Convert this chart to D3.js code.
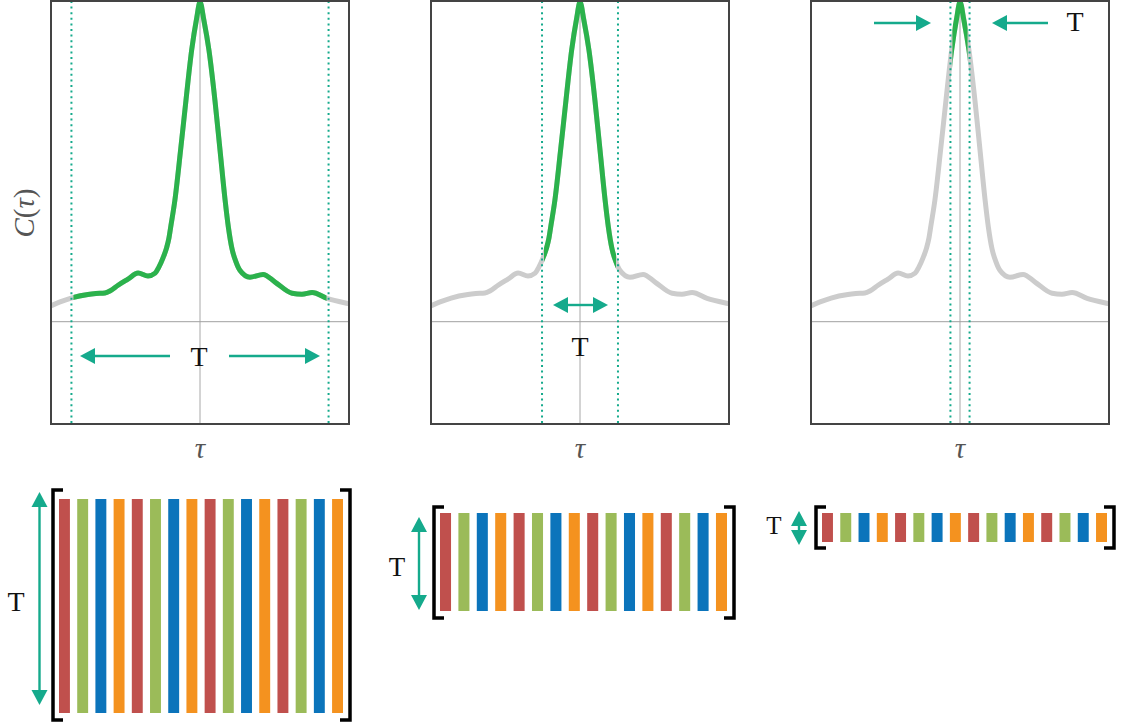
<!DOCTYPE html>
<html>
<head>
<meta charset="utf-8">
<script src="https://cdn.jsdelivr.net/npm/d3@7"></script>
<style>
  html, body { margin: 0; padding: 0; background: #fff; }
  svg { display: block; }
</style>
</head>
<body>
<script>
// Autocorrelation curve C(tau), sampled along the lag axis
const tauValues = [-5.05, -4.68, -4.31, -3.75, -3.48, -3.18, -3.0, -2.74, -2.41, -2.07, -1.74, -1.50, -1.38,
  -1.24, -1.12, -1.04, -0.97, -0.84, -0.65, -0.47, -0.28, -0.11, 0,
  0.13, 0.30, 0.50, 0.67, 0.84, 0.95, 1.07, 1.20, 1.34, 1.67, 2.11, 2.51, 3.08, 3.41, 3.75, 4.25, 4.95, 5.05];
const corrValues = [0.047, 0.062, 0.074, 0.085, 0.088, 0.090, 0.097, 0.114, 0.133, 0.152, 0.143, 0.152, 0.170,
  0.199, 0.230, 0.261, 0.302, 0.380, 0.536, 0.692, 0.849, 0.950, 1.0,
  0.943, 0.849, 0.692, 0.536, 0.380, 0.295, 0.228, 0.188, 0.160, 0.139, 0.148, 0.124, 0.089, 0.086, 0.091, 0.073, 0.057, 0.055];

// Half-width of the integration window T in each panel (lag units)
const windowHalfWidths = [4.3, 1.27, 0.32];

// Columns of each trajectory matrix (colour groups repeat across the 16 columns)
const columnGroups = ["a", "b", "c", "d", "a", "b", "c", "d", "a", "b", "c", "d", "a", "b", "c", "d"];
const groupNames = ["a", "b", "c", "d"];
const groupColors = ["#c0504d", "#9bbb59", "#0b74bb", "#f4921f"];

const labelT = "T";

const curveData = tauValues.map((t, i) => ({ tau: t, c: corrValues[i] }));

const W = 1122, H = 727;
const teal = "#15aa8c";
const serifFont = "'Liberation Serif', 'DejaVu Serif', serif";
const svg = d3.select("body").append("svg").attr("width", W).attr("height", H);
const defs = svg.append("defs");

// Arrow: shaft from (x1,y1) to (x2,y2) with filled heads at the requested ends
function arrow(g, x1, y1, x2, y2, headEnd, headStart, headLen = 15, headW = 16, width = 2.4) {
  const dx = x2 - x1, dy = y2 - y1, L = Math.hypot(dx, dy);
  const ux = dx / L, uy = dy / L, px = -uy, py = ux;
  const sx1 = headStart ? x1 + ux * (headLen - 2) : x1;
  const sy1 = headStart ? y1 + uy * (headLen - 2) : y1;
  const sx2 = headEnd ? x2 - ux * (headLen - 2) : x2;
  const sy2 = headEnd ? y2 - uy * (headLen - 2) : y2;
  if (L > 2 * headLen - 4 || !(headEnd && headStart)) {
    g.append("line").attr("x1", sx1).attr("y1", sy1).attr("x2", sx2).attr("y2", sy2)
      .attr("stroke", teal).attr("stroke-width", width);
  }
  const head = (tx, ty, vx, vy) => {
    const bx = tx - vx * headLen, by = ty - vy * headLen;
    g.append("path")
      .attr("d", `M${tx},${ty}L${bx + px * headW / 2},${by + py * headW / 2}L${bx - px * headW / 2},${by - py * headW / 2}Z`)
      .attr("fill", teal);
  };
  if (headEnd) head(x2, y2, ux, uy);
  if (headStart) head(x1, y1, -ux, -uy);
}

function textT(x, y, size) {
  svg.append("text").attr("x", x).attr("y", y)
    .attr("text-anchor", "middle")
    .attr("font-family", serifFont)
    .attr("font-size", size).attr("fill", "#111")
    .text(labelT);
}

// ---- Correlation panels ----
const panelCenters = [200, 580, 960];
const frameTop = 1, frameBottom = 424, halfW = 149;

panelCenters.forEach((cx, p) => {
  const x = d3.scaleLinear().domain([-5, 5]).range([cx - 149.5, cx + 149.5]);
  const y = d3.scaleLinear().domain([-0.32, 1]).range([frameBottom, 2]);
  const line = d3.line().x(d => x(d.tau)).y(d => y(d.c)).curve(d3.curveMonotoneX);

  const clipId = "frame" + p;
  defs.append("clipPath").attr("id", clipId).append("rect")
    .attr("x", cx - halfW).attr("y", frameTop).attr("width", 2 * halfW).attr("height", frameBottom - frameTop);
  const w = windowHalfWidths[p];
  const winId = "win" + p;
  defs.append("clipPath").attr("id", winId).append("rect")
    .attr("x", x(-w) + 2).attr("y", frameTop).attr("width", x(w) - x(-w) - 4).attr("height", frameBottom - frameTop);

  const g = svg.append("g").attr("clip-path", `url(#${clipId})`);
  g.append("line").attr("x1", cx).attr("x2", cx).attr("y1", frameTop).attr("y2", frameBottom)
    .attr("stroke", "#a8a8a8").attr("stroke-width", 1);
  g.append("line").attr("x1", cx - halfW).attr("x2", cx + halfW).attr("y1", y(0)).attr("y2", y(0))
    .attr("stroke", "#a0a0a0").attr("stroke-width", 1);

  g.append("path").datum(curveData).attr("d", line)
    .attr("fill", "none").attr("stroke", "#cccccc").attr("stroke-width", 5).attr("stroke-linejoin", "round");
  g.append("g").attr("clip-path", `url(#${winId})`)
    .append("path").datum(curveData).attr("d", line)
    .attr("fill", "none").attr("stroke", "#2bb24c").attr("stroke-width", 5).attr("stroke-linejoin", "round");

  [-w, w].forEach(t => {
    g.append("line").attr("x1", x(t)).attr("x2", x(t)).attr("y1", frameTop).attr("y2", frameBottom)
      .attr("stroke", teal).attr("stroke-width", 2).attr("stroke-dasharray", "2 3.6");
  });

  svg.append("rect").attr("x", cx - halfW).attr("y", frameTop).attr("width", 2 * halfW)
    .attr("height", frameBottom - frameTop).attr("fill", "none").attr("stroke", "#444").attr("stroke-width", 2);

  svg.append("text").attr("x", cx).attr("y", 458).attr("text-anchor", "middle")
    .attr("font-family", serifFont).attr("font-style", "italic")
    .attr("font-size", 29).attr("fill", "#555").text("τ");
});

// y-axis label
const yl = svg.append("text").attr("transform", "translate(34,213) rotate(-90)")
  .attr("text-anchor", "middle")
  .attr("font-family", serifFont)
  .attr("font-size", 29).attr("fill", "#555");
yl.append("tspan").attr("font-style", "italic").text("C");
yl.append("tspan").text("(");
yl.append("tspan").attr("font-style", "italic").text("τ");
yl.append("tspan").text(")");

// window annotations
arrow(svg, 170, 356, 80, 356, true, false);
arrow(svg, 229, 356, 320, 356, true, false);
textT(199, 366, 28);

arrow(svg, 553, 305, 608, 305, true, true);
textT(580, 356, 28);

arrow(svg, 874, 23, 931, 23, true, false);
arrow(svg, 1048, 23, 992, 23, true, false);
textT(1075, 31, 28);

// ---- Trajectory matrices ----
const color = d3.scaleOrdinal().domain(groupNames).range(groupColors);
const matrices = [
  { left: 59, right: 343, top: 499, bottom: 713, bTop: 490, bBottom: 720, ax: 39.5, aTop: 492, aBottom: 705, tx: 16, ty: 611, ts: 28 },
  { left: 440, right: 727, top: 513, bottom: 611, bTop: 507, bBottom: 618, ax: 419, aTop: 517, aBottom: 610, tx: 397, ty: 576, ts: 27 },
  { left: 822, right: 1107, top: 513, bottom: 542, bTop: 507, bBottom: 548, ax: 799, aTop: 511, aBottom: 545, tx: 774, ty: 534, ts: 25 }
];

matrices.forEach(m => {
  const xb = d3.scaleBand().domain(d3.range(columnGroups.length)).range([m.left, m.right])
    .paddingInner(0.4).paddingOuter(0);
  svg.append("g").selectAll("rect").data(columnGroups).join("rect")
    .attr("x", (d, i) => xb(i)).attr("width", xb.bandwidth())
    .attr("y", m.top).attr("height", m.bottom - m.top)
    .attr("fill", d => color(d));

  const lx = m.left - 6, rx = m.right + 7, serif = 10;
  svg.append("path").attr("d", `M${lx + serif},${m.bTop}H${lx}V${m.bBottom}H${lx + serif}`)
    .attr("fill", "none").attr("stroke", "#000").attr("stroke-width", 3.5);
  svg.append("path").attr("d", `M${rx - serif},${m.bTop}H${rx}V${m.bBottom}H${rx - serif}`)
    .attr("fill", "none").attr("stroke", "#000").attr("stroke-width", 3.5);

  arrow(svg, m.ax, m.aTop, m.ax, m.aBottom, true, true);
  textT(m.tx, m.ty, m.ts);
});
</script>
</body>
</html>
